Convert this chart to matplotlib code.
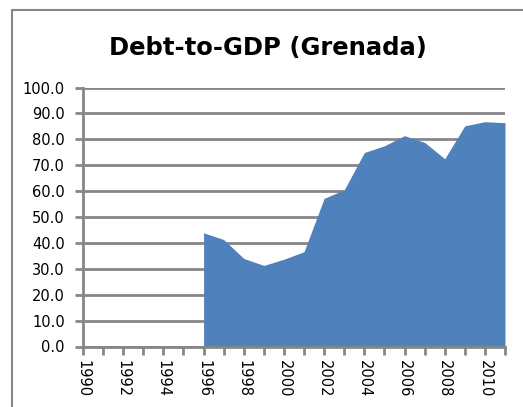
import numpy as np
import matplotlib.pyplot as plt
from matplotlib.patches import Rectangle
from matplotlib.ticker import MultipleLocator

# Grenada debt-to-GDP, % (no data before 1996)
years = list(range(1990, 2012))
debt = [np.nan] * 6 + [43.9, 41.3, 34.0, 31.3, 33.7, 36.6, 57.2, 60.5,
                       74.9, 77.5, 81.4, 78.8, 72.5, 85.2, 86.8, 86.4]
tick_years = list(range(1990, 2012, 2))
y_ticks = [0, 10, 20, 30, 40, 50, 60, 70, 80, 90, 100]

grey = "#868686"
blue = "#4F81BD"

fig = plt.figure(figsize=(5.23, 4.07), dpi=100)
ax = fig.add_axes([83 / 523, 1 - 346.5 / 407, (505 - 83) / 523, (346.5 - 87.5) / 407])

x = np.array(years)
y = np.array(debt)
ok = ~np.isnan(y)
ax.fill_between(x[ok], 0, y[ok], color=blue, linewidth=0, zorder=3)

ax.set_xlim(1990, 2011)
ax.set_ylim(0, 100)
ax.set_yticks(y_ticks)
ax.set_yticklabels([f"{v:.1f}" for v in y_ticks])
ax.set_xticks(tick_years)
ax.set_xticklabels([str(t) for t in tick_years], rotation=-90)
ax.xaxis.set_minor_locator(MultipleLocator(1))

ax.grid(axis="y", color=grey, linewidth=2, zorder=1)
ax.set_axisbelow(True)
for side in ["top", "right"]:
    ax.spines[side].set_visible(False)
for side in ["left", "bottom"]:
    ax.spines[side].set_color(grey)
    ax.spines[side].set_linewidth(2)
    ax.spines[side].set_zorder(4)

ax.tick_params(axis="both", which="both", color=grey, width=2, labelsize=10.5,
               labelcolor="black")
ax.tick_params(axis="y", length=6, pad=7)
ax.tick_params(axis="x", which="both", length=6, pad=4)

fig.text(0.513, 1 - 48 / 407, "Debt-to-GDP (Grenada)", ha="center", va="center",
         fontsize=17.5, fontweight="bold")

# chart area border
fig.patches.append(Rectangle((12 / 523, -0.1), 1.2, 1 - 10 / 407 + 0.1,
                             transform=fig.transFigure, fill=False,
                             edgecolor=grey, linewidth=1.5))

fig.savefig("out.png", dpi=100)
